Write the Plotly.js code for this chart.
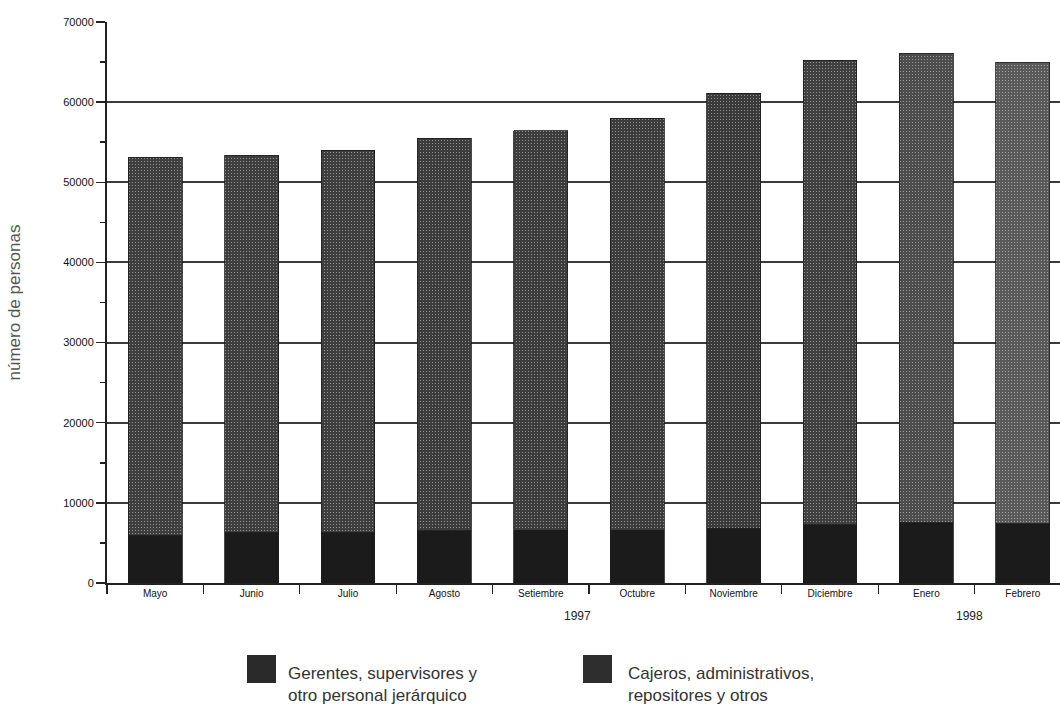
<!DOCTYPE html>
<html>
<head>
<meta charset="utf-8">
<script src="https://cdn.plot.ly/plotly-3.0.1.min.js"></script>
<style>html,body{margin:0;padding:0;background:#fff;}#chart{width:1060px;height:709px;}</style>
</head>
<body>
<div id="chart"></div>
<script>
// ---- data ----
const months = ["Mayo","Junio","Julio","Agosto","Setiembre","Octubre","Noviembre","Diciembre","Enero","Febrero"];
const gerentes = [5900, 6300, 6300, 6500, 6600, 6600, 6800, 7300, 7500, 7400];
const cajeros  = [47200, 47100, 47700, 49000, 49800, 51400, 54300, 57900, 58600, 57600];
const yearLabels = ["1997", "1998"];
const seriesNames = ["Gerentes, supervisores y<br>otro personal jerárquico", "Cajeros, administrativos,<br>repositores y otros"];
const yTicks = [0, 10000, 20000, 30000, 40000, 50000, 60000, 70000];

// ---- layout helpers (pixel -> paper) ----
const L = 107, T = 22, W = 1060, H = 709, B = 126, R = 0;
const pw = W - L - R, ph = H - T - B;
const px = x => (x - L) / pw;
const py = y => (H - B - y) / ph;

const topColors = ["#3e3e3e","#3e3e3e","#3e3e3e","#3c3c3c","#3c3c3c","#3c3c3c","#3a3a3a","#404040","#4c4c4c","#5a5a5a"];

const traces = [
  {
    type: "bar", x: months, y: gerentes, name: "Gerentes", width: 0.56,
    marker: {color: "#1b1b1b", line: {color: "#1b1b1b", width: 0.8}},
    hoverinfo: "x+y"
  },
  {
    type: "bar", x: months, y: cajeros, name: "Cajeros", width: 0.56,
    marker: {color: topColors, line: {color: "#1a1a1a", width: 0.8},
             pattern: {shape: ".", fgcolor: "#8c8c8c", size: 3, solidity: 0.12, fillmode: "overlay"}},
    hoverinfo: "x+y"
  }
];

const font = "Liberation Sans, Arial, sans-serif";

const layout = {
  width: W, height: H,
  margin: {l: L, r: R, t: T, b: B},
  paper_bgcolor: "#ffffff", plot_bgcolor: "#ffffff",
  barmode: "stack",
  showlegend: false,
  font: {family: font, color: "#222"},
  xaxis: {
    type: "category",
    range: [-0.5, -0.5 + pw / 96.4],
    tickson: "boundaries",
    ticks: "outside", ticklen: 9, tickwidth: 1.2, tickcolor: "#222",
    showline: true, linecolor: "#222", linewidth: 2,
    showgrid: false, zeroline: false,
    tickfont: {family: font, size: 10, color: "#111"},
    automargin: false, fixedrange: true
  },
  yaxis: {
    range: [0, 70000],
    tickvals: yTicks,
    ticktext: yTicks.map(String),
    ticks: "outside", ticklen: 9, tickwidth: 1.5, tickcolor: "#222",
    minor: {dtick: 5000, ticks: "outside", ticklen: 5, tickwidth: 1.5, tickcolor: "#222", showgrid: false},
    showline: true, linecolor: "#222", linewidth: 2,
    showgrid: true, gridcolor: "#3a3a3a", gridwidth: 2,
    zeroline: false,
    tickfont: {family: font, size: 11, color: "#111"},
    title: {text: "número de personas", font: {family: font, size: 17, color: "#555"}, standoff: 38},
    automargin: false, fixedrange: true
  },
  annotations: [
    {xref: "paper", yref: "paper", x: px(577), y: py(616), text: yearLabels[0], showarrow: false,
     font: {family: font, size: 12, color: "#222"}, xanchor: "center", yanchor: "middle"},
    {xref: "paper", yref: "paper", x: px(969), y: py(616), text: yearLabels[1], showarrow: false,
     font: {family: font, size: 12, color: "#222"}, xanchor: "center", yanchor: "middle"},
    {xref: "paper", yref: "paper", x: px(286), y: py(684), text: seriesNames[0], showarrow: false, align: "left",
     font: {family: font, size: 17, color: "#333"}, xanchor: "left", yanchor: "middle"},
    {xref: "paper", yref: "paper", x: px(626), y: py(684), text: seriesNames[1], showarrow: false, align: "left",
     font: {family: font, size: 17, color: "#333"}, xanchor: "left", yanchor: "middle"}
  ],
  shapes: [
    {type: "rect", xref: "paper", yref: "paper", x0: px(247), x1: px(276), y0: py(655), y1: py(683),
     fillcolor: "#2a2a2a", line: {width: 0}},
    {type: "rect", xref: "paper", yref: "paper", x0: px(583), x1: px(612), y0: py(655), y1: py(683),
     fillcolor: "#2e2e2e", line: {width: 0}}
  ]
};

Plotly.newPlot("chart", traces, layout, {displayModeBar: false, staticPlot: true});
</script>
</body>
</html>
